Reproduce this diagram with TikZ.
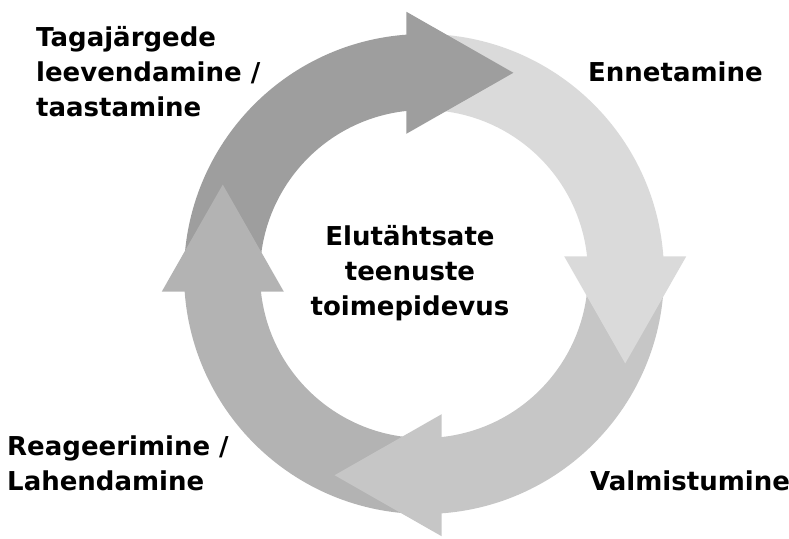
\documentclass[tikz,border=0pt]{standalone}
\usepackage{fontspec}
\setmainfont{DejaVu Sans}
\usetikzlibrary{calc}
\definecolor{gTop}{HTML}{9E9E9E}
\definecolor{gRight}{HTML}{DADADA}
\definecolor{gBottom}{HTML}{C6C6C6}
\definecolor{gLeft}{HTML}{B3B3B3}
\begin{document}
\begin{tikzpicture}[x=1pt,y=1pt]
	\tikzstyle{phase}=[font=\bfseries\fontsize{26}{35}\selectfont, align=left, inner sep=0pt, anchor=base west]
	\tikzstyle{core}=[font=\bfseries\fontsize{26}{35}\selectfont, align=center, inner sep=0pt, anchor=base]
	\useasboundingbox (0,0) rectangle (789,538);
	\coordinate (c) at (424,264);
	% ring segments (ends tucked under the heads)
	\foreach \from/\to/\shade in {183/93.5/gTop, 93/3.5/gRight, 3/-86.5/gBottom, -87/-176.5/gLeft}
		\fill[\shade] ($(c)+(\from:240)$) arc[start angle=\from, end angle=\to, radius=240]
			-- ($(c)+(\to:164)$) arc[start angle=\to, end angle=\from, radius=164] -- cycle;
	% arrow heads
	\foreach \a/\shade in {95/gTop, 5/gRight, -85/gBottom, 185/gLeft} {
		\coordinate (m) at ($(c)+(\a:202)$);
		\fill[\shade] ($(m)+(\a-5:61)$) -- ($(m)+(\a-95:107)$) -- ($(m)+(\a+175:61)$) -- cycle;
	}
	\node [phase] (recovery) at (36,421) {Tagajärgede\\leevendamine /\\taastamine};
	\node [phase] (prevention) at (588,456) {Ennetamine};
	\node [phase] (response) at (7,48) {Reageerimine /\\Lahendamine};
	\node [phase] (preparedness) at (590,48) {Valmistumine};
	\node [core] (centre) at (410,222) {Elutähtsate\\teenuste\\toimepidevus};
\end{tikzpicture}
\end{document}
